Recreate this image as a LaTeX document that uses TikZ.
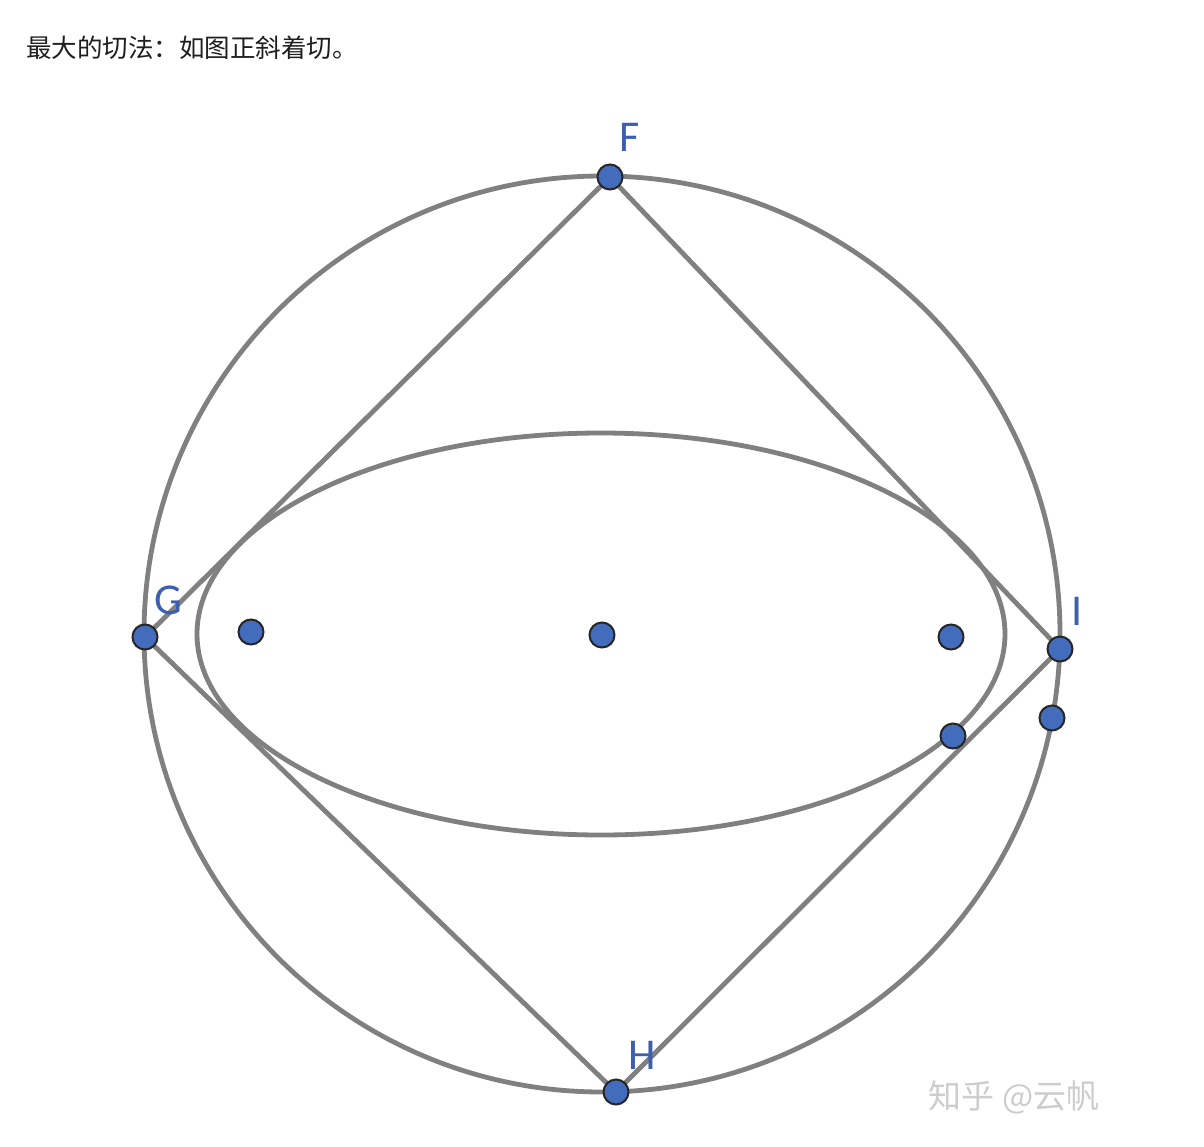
\documentclass[tikz,border=0pt]{standalone}
\usepackage{fontspec}
\setmainfont{Carlito}
\newfontfamily\cjk{Noto Sans CJK SC}
\definecolor{linegray}{RGB}{128,128,128}
\definecolor{ptblue}{RGB}{68,108,188}
\definecolor{lblblue}{RGB}{60,95,175}
\definecolor{wmgray}{RGB}{205,205,205}
\tikzset{
  geo/.style={draw=linegray, line width=4.8pt},
  pt/.style={circle, draw=black!85, line width=2pt, fill=ptblue, inner sep=0pt, minimum size=25pt},
  lbl/.style={text=lblblue, font=\fontsize{44}{48}\selectfont, inner sep=0pt}
}
\begin{document}
\begin{tikzpicture}[x=1pt,y=-1pt]
\useasboundingbox[fill=white] (0,0) rectangle (1204,1146);
\node[anchor=west, text=black!88, font=\cjk\fontsize{25.5}{28}\selectfont, inner sep=0pt] (title) at (26,48) {最大的切法：如图正斜着切。};
% circle and ellipse
\coordinate (O) at (602,634);
\draw[geo] (O) circle [radius=458];
\draw[geo] (601,634) ellipse [x radius=404, y radius=201];
% points
\coordinate (Fc) at (610,177);
\coordinate (Gc) at (145,637);
\coordinate (Hc) at (616,1092);
\coordinate (Ic) at (1060,649);
\draw[geo] (Fc) -- (Gc) -- (Hc) -- (Ic) -- cycle;
\node[pt] (F) at (Fc) {};
\node[pt] (G) at (Gc) {};
\node[pt] (H) at (Hc) {};
\node[pt] (I) at (Ic) {};
\node[pt] (f1) at (251,632) {};
\node[pt] (c) at (602,635) {};
\node[pt] (f2) at (951,637) {};
\node[pt] (t1) at (953,736) {};
\node[pt] (t2) at (1052,718) {};
% labels
\node[lbl] (lF) at (630,137) {F};
\node[lbl] (lG) at (168,600) {G};
\node[lbl] (lH) at (642,1055) {H};
\node[lbl] (lI) at (1077,611) {I};
% watermark
\node[text=wmgray, font=\cjk\fontsize{33}{36}\selectfont, inner sep=0pt] (wm) at (1014,1097) {知乎 @云帆};
\end{tikzpicture}
\end{document}
